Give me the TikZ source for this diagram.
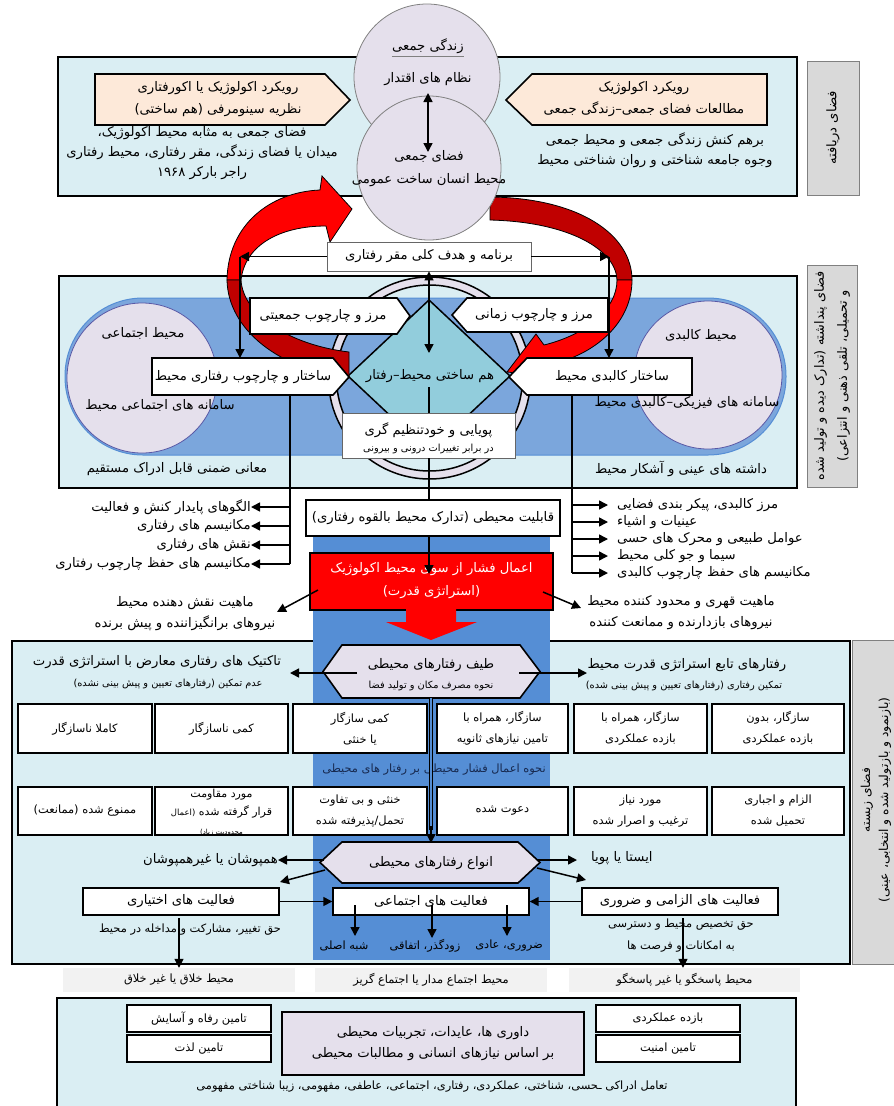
\documentclass[tikz,border=0pt]{standalone}
\usepackage{fontspec}
\usetikzlibrary{arrows.meta}
\TeXXeTstate=1
\newfontfamily\persianfont[Script=Arabic]{DejaVu Sans}
\newcommand\prs[1]{\beginR #1\endR}
\definecolor{lbox}{HTML}{DAEEF3}
\definecolor{peach}{HTML}{FDE9D9}
\definecolor{lav}{HTML}{E5E0EC}
\definecolor{midblue}{HTML}{7BA6DC}
\definecolor{bandblue}{HTML}{558ED5}
\definecolor{diamc}{HTML}{92CDDC}
\definecolor{glabel}{HTML}{D9D9D9}
\definecolor{lgray}{HTML}{F2F2F2}
\definecolor{dred}{HTML}{C00000}
\definecolor{navy}{HTML}{17294F}
\tikzset{
  bigbox/.style={draw=black,line width=2.6pt,fill=lbox},
  labelbox/.style={draw=gray,line width=1pt,fill=glabel},
  shapebox/.style={draw=black,line width=1.6pt,fill=white},
  thinbox/.style={draw=gray!80!black,line width=0.8pt,fill=white},
  cell/.style={draw=black,line width=1.4pt,fill=white},
  redband/.style={draw=black,line width=0.8pt,fill=red},
  dredband/.style={draw=black,line width=0.8pt,fill=dred},
  tx/.style={font=\persianfont\fontsize{13.2}{21}\selectfont,align=center,inner sep=0pt},
  tm/.style={font=\persianfont\fontsize{11.4}{21}\selectfont,align=center,inner sep=0pt},
  ts/.style={font=\persianfont\fontsize{9.8}{16}\selectfont,align=center,inner sep=0pt},
  arr/.style={-{Triangle[length=9pt,width=9pt]},line width=1.5pt},
  darr/.style={{Triangle[length=9pt,width=9pt]}-{Triangle[length=9pt,width=9pt]},line width=1.5pt},
  ln/.style={line width=1.5pt},
}
\begin{document}
\begin{tikzpicture}[x=1pt,y=-1pt]
\useasboundingbox (0,0) rectangle (894,1106);
% ================= top section =================
\draw[bigbox] (58,57) rectangle (797,196);
\draw[labelbox] (807,61) rectangle (859,195);
\node[tx,rotate=90] (lab1) at (833,128) {\prs{فضای دریافته}};
\draw[shapebox,fill=peach] (95,74) -- (325,74) -- (350,100) -- (325,125) -- (95,125) -- cycle;
\node[tx,font=\persianfont\fontsize{13.2}{22}\selectfont] (appL) at (218,99) {\prs{رویکرد اکولوژیک یا اکورفتاری}\\\prs{نظریه سینومرفی (هم ساختی)}};
\node[tx,font=\persianfont\fontsize{13.2}{20}\selectfont] (descL) at (202,153) {\prs{فضای جمعی به مثابه محیط اکولوژیک،}\\\prs{میدان یا فضای زندگی، مقر رفتاری، محیط رفتاری}\\\prs{راجر بارکر ۱۹۶۸}};
\draw[shapebox,fill=peach] (767,74) -- (532,74) -- (506,100) -- (532,125) -- (767,125) -- cycle;
\node[tx,font=\persianfont\fontsize{13.2}{22}\selectfont] (appR) at (644,99) {\prs{رویکرد اکولوژیک}\\\prs{مطالعات فضای جمعی–زندگی جمعی}};
\node[tx,font=\persianfont\fontsize{13.2}{20}\selectfont] (descR) at (655,150) {\prs{برهم کنش زندگی جمعی و محیط جمعی}\\\prs{وجوه جامعه شناختی و روان شناختی محیط}};
% ================= middle section =================
\draw[bigbox] (59,276) rectangle (797,488);
\draw[labelbox] (807,265) rectangle (857,487);
\node[tx,rotate=90,font=\persianfont\fontsize{12.8}{23}\selectfont] (lab2) at (832,376) {\prs{فضای پنداشته (تدارک دیده و تولید شده}\\\prs{و تحمیلی، تلقی ذهنی و انتزاعی)}};
\draw[fill=midblue,draw=bandblue,line width=1pt,rounded corners=78pt] (65,298) rectangle (786,455);
\draw[fill=lav,draw=gray!70!blue,line width=0.8pt] (142,378) circle[radius=75pt];
\draw[fill=lav,draw=gray!70!blue,line width=0.8pt] (708,375) circle[radius=74pt];
\node[tx] (socT) at (143,333) {\prs{محیط اجتماعی}};
\node[tx] (socS) at (160,405) {\prs{سامانه های اجتماعی محیط}};
\node[tx] (phyT) at (701,335) {\prs{محیط کالبدی}};
\node[tx] (phyS) at (687,403) {\prs{سامانه های فیزیکی–کالبدی محیط}};
\node[tx] (implicit) at (177,469) {\prs{معانی ضمنی قابل ادراک مستقیم}};
\node[tx] (explicit) at (681,469) {\prs{داشته های عینی و آشکار محیط}};
\fill[lav,even odd rule] (429.5,378) circle[radius=101pt] (429.5,378) circle[radius=93pt];
\draw[line width=1.5pt] (429.5,378) circle[radius=101pt];
\draw[line width=1.5pt] (429.5,378) circle[radius=93pt];
\draw[fill=diamc,line width=1.5pt] (429,300) -- (510,376) -- (429,452) -- (348,376) -- cycle;
\node[tx] (diam) at (430,376) {\prs{هم ساختی محیط–رفتار}};
% red curved arrows
\draw[redband] (227,280) .. controls (228,225) and (270,192) .. (320,190) -- (322,176) -- (352,209) -- (330,242) -- (326,226) .. controls (280,226) and (245,245) .. (241,280) -- cycle;
\draw[dredband] (241,280) .. controls (243,315) and (290,345) .. (349,352) -- (349,378) .. controls (280,370) and (228,330) .. (227,280) -- cycle;
\draw[dredband] (490,197) .. controls (580,198) and (632,235) .. (632,280) -- (617,280) .. controls (616,250) and (570,222) .. (490,220) -- cycle;
\draw[redband] (617,280) .. controls (617,310) and (585,335) .. (544,345) -- (536,334) -- (507,372) -- (566,378) -- (560,362) .. controls (600,350) and (632,320) .. (632,280) -- cycle;
% top circles
\draw[fill=lav,draw=gray,line width=0.8pt] (427,77) circle[radius=73pt];
\draw[fill=lav,draw=gray,line width=0.8pt] (429,168) circle[radius=72pt];
\node[tx] (lifeT) at (428,46) {\prs{زندگی جمعی}};
\draw[gray,line width=0.8pt] ([yshift=-3pt]lifeT.south west) -- ([yshift=-3pt]lifeT.south east);
\node[tx] (power) at (428,79) {\prs{نظام های اقتدار}};
\node[tx,font=\persianfont\fontsize{13.2}{23}\selectfont] (space) at (429,168.5) {\prs{فضای جمعی}\\\prs{محیط انسان ساخت عمومی}};
\coordinate (pa) at (428,93);
\coordinate (pb) at (428,152);
\draw[darr] (pa) -- (pb);
% boxes of middle section
\node[thinbox,tx,minimum width=204pt,minimum height=29pt] (prog) at (429,256.5) {\prs{برنامه و هدف کلی مقر رفتاری}};
\draw[shapebox] (250,298) -- (397,298) -- (410,316) -- (397,334) -- (250,334) -- cycle;
\node[tx] (bndPop) at (323,316) {\prs{مرز و چارچوب جمعیتی}};
\draw[shapebox] (608,298) -- (467,298) -- (452,315) -- (467,332) -- (608,332) -- cycle;
\node[tx] (bndTime) at (534,315) {\prs{مرز و چارچوب زمانی}};
\draw[shapebox] (152,358) -- (333,358) -- (349,377) -- (333,395) -- (152,395) -- cycle;
\node[tx] (strB) at (243,377) {\prs{ساختار و چارچوب رفتاری محیط}};
\draw[shapebox] (692,358) -- (527,358) -- (509,377) -- (527,395) -- (692,395) -- cycle;
\node[tx] (strP) at (612,377) {\prs{ساختار کالبدی محیط}};
\node[thinbox,minimum width=173pt,minimum height=45pt] (dyn) at (428.5,435.5) {};
\node[tx] (dynA) at (428.5,430) {\prs{پویایی و خودتنظیم گری}};
\node[ts] (dynB) at (428.5,449) {\prs{در برابر تغییرات درونی و بیرونی}};
% arrows of middle section
\coordinate (cL) at (240,256.5);
\coordinate (cR) at (609,256.5);
\coordinate (strBtop) at (240,358);
\coordinate (strPtop) at (609,358);
\draw[arr] (prog.west) -- (cL);
\draw[arr] (cL) -- (strBtop);
\draw[arr] (prog.east) -- (cR);
\draw[arr] (cR) -- (strPtop);
\coordinate (dtop) at (429,353);
\draw[darr] (prog.south -| dtop) -- (dtop);
\coordinate (dbot) at (429,387);
\draw[ln] (dbot) -- (dbot |- dyn.north);
% lists
\coordinate (lTop) at (290,395);
\coordinate (lBot) at (290,564);
\draw[ln] (lTop) -- (lBot);
\node[tx,anchor=east] (L1) at (251,507) {\prs{الگوهای پایدار کنش و فعالیت}};
\node[tx,anchor=east] (L2) at (251,526) {\prs{مکانیسم های رفتاری}};
\node[tx,anchor=east] (L3) at (251,545) {\prs{نقش های رفتاری}};
\node[tx,anchor=east] (L4) at (251,564) {\prs{مکانیسم های حفظ چارچوب رفتاری}};
\foreach \n in {L1,L2,L3,L4} \draw[arr] (lTop |- \n) -- (\n.east);
\coordinate (rTop) at (572,395);
\coordinate (rBot) at (572,573);
\draw[ln] (rTop) -- (rBot);
\node[tx,anchor=west] (R1) at (617,505) {\prs{مرز کالبدی، پیکر بندی فضایی}};
\node[tx,anchor=west] (R2) at (617,522) {\prs{عینیات و اشیاء}};
\node[tx,anchor=west] (R3) at (617,539) {\prs{عوامل طبیعی و محرک های حسی}};
\node[tx,anchor=west] (R4) at (617,556) {\prs{سیما و جو کلی محیط}};
\node[tx,anchor=west] (R5) at (617,573) {\prs{مکانیسم های حفظ چارچوب کالبدی}};
\foreach \n in {R1,R2,R3,R4,R5} \draw[arr] (rTop |- \n) -- ([xshift=-9pt]\n.west);
% ================= lower section =================
\draw[bigbox] (12,641) rectangle (850,964);
\draw[labelbox] (852,640) rectangle (900,964);
\node[tx,rotate=90,font=\persianfont\fontsize{12.3}{18}\selectfont] (lab3) at (876,800) {\prs{فضای زیسته}\\\prs{(بازنمود و بازتولید شده و انتخابی، عینی)}};
\fill[bandblue] (313,530) rectangle (550,960);
\node[cell,tx,minimum width=254pt,minimum height=36pt] (cap) at (433,518) {\prs{قابلیت محیطی (تدارک محیط بالقوه رفتاری)}};
\draw[ln] (dyn.south -| dbot) -- (dbot |- cap.north);
\node[draw=black,line width=1.4pt,fill=red,minimum width=243pt,minimum height=57pt] (press) at (431.5,581.5) {};
\node[tx,text=white,font=\persianfont\fontsize{13.2}{23}\selectfont] (pressT) at (431.5,580.5) {\prs{اعمال فشار از سوی محیط اکولوژیک}\\\prs{(استراتژی قدرت)}};
\coordinate (ptip) at (429,574);
\draw[arr] (cap.south -| ptip) -- (ptip);
\fill[red] (406,609) -- (456,609) -- (456,622) -- (477,622) -- (431,640) -- (386,622) -- (406,622) -- cycle;
\coordinate (pL) at (318,590);
\coordinate (pLt) at (277,612);
\coordinate (pR) at (543,592);
\coordinate (pRt) at (581,608);
\draw[arr] (pL) -- (pLt);
\draw[arr] (pR) -- (pRt);
\node[tx] (natL) at (185,614) {\prs{ماهیت نقش دهنده محیط}\\\prs{نیروهای برانگیزاننده و پیش برنده}};
\node[tx] (natR) at (681,613) {\prs{ماهیت قهری و محدود کننده محیط}\\\prs{نیروهای بازدارنده و ممانعت کننده}};
% spectrum hexagon
\draw[fill=lav,line width=1.6pt] (323,671.5) -- (342,645) -- (520,645) -- (540,671.5) -- (520,698) -- (342,698) -- cycle;
\node[tx] (spec) at (431,665) {\prs{طیف رفتارهای محیطی}};
\node[ts] (specS) at (431,686) {\prs{نحوه مصرف مکان و تولید فضا}};
\node[tx] (tac) at (157,662) {\prs{تاکتیک های رفتاری معارض با استراتژی قدرت}};
\node[ts] (tacS) at (168,684) {\prs{عدم تمکین (رفتارهای تعیین و پیش بینی نشده)}};
\node[tx] (fol) at (687,665) {\prs{رفتارهای تابع استراتژی قدرت محیط}};
\node[ts] (folS) at (684,686) {\prs{تمکین رفتاری (رفتارهای تعیین و پیش بینی شده)}};
\coordinate (s1) at (357,673);
\coordinate (s1t) at (290,673);
\coordinate (s2) at (519,673);
\coordinate (s2t) at (587,673);
\draw[arr] (s1) -- (s1t);
\draw[arr] (s2) -- (s2t);
% grid row 1
\node[cell,tm,minimum width=134pt,minimum height=49pt] (a1) at (85,728.5) {\prs{کاملا ناسازگار}};
\node[cell,tm,minimum width=133pt,minimum height=49pt] (a2) at (221.5,728.5) {\prs{کمی ناسازگار}};
\node[cell,tm,minimum width=134pt,minimum height=49pt] (a3) at (360,728.5) {\prs{کمی سازگار}\\\prs{یا خنثی}};
\node[cell,tm,minimum width=131pt,minimum height=49pt] (a4) at (502.5,728.5) {\prs{سازگار، همراه با}\\\prs{تامین نیازهای ثانویه}};
\node[cell,tm,minimum width=133pt,minimum height=49pt] (a5) at (640.5,728.5) {\prs{سازگار، همراه با}\\\prs{بازده عملکردی}};
\node[cell,tm,minimum width=132pt,minimum height=49pt] (a6) at (778,728.5) {\prs{سازگار، بدون}\\\prs{بازده عملکردی}};
\node[tm,text=navy] (how) at (434,770) {\prs{نحوه اعمال فشار محیطی بر رفتار های محیطی}};
% grid row 2
\node[cell,tm,minimum width=134pt,minimum height=48pt] (b1) at (85,811) {\prs{ممنوع شده (ممانعت)}};
\node[cell,minimum width=133pt,minimum height=48pt] (b2) at (221.5,811) {};
\node[tm,font=\persianfont\fontsize{11}{18}\selectfont] (b2t) at (221.5,804) {\prs{مورد مقاومت}\\\prs{قرار گرفته شده {\fontsize{8.5}{9}\selectfont(اعمال}}};
\node[ts,font=\persianfont\fontsize{7}{8}\selectfont] (b2s) at (221.5,833) {\prs{محدودیت زیاد)}};
\node[cell,tm,minimum width=134pt,minimum height=48pt] (b3) at (360,811) {\prs{خنثی و بی تفاوت}\\\prs{تحمل/پذیرفته شده}};
\node[cell,tm,minimum width=131pt,minimum height=48pt] (b4) at (502.5,811) {\prs{دعوت شده}};
\node[cell,tm,minimum width=133pt,minimum height=48pt] (b5) at (640.5,811) {\prs{مورد نیاز}\\\prs{ترغیب و اصرار شده}};
\node[cell,tm,minimum width=132pt,minimum height=48pt] (b6) at (778,811) {\prs{الزام و اجباری}\\\prs{تحمیل شده}};
% double line to types
\coordinate (h1s) at (431,698);
\coordinate (h2a) at (431,830);
\coordinate (h2n) at (431,843);
\draw[line width=0.8pt,double=bandblue,double distance=2.2pt] (h1s) -- (h2a);
\draw[arr] ([yshift=4pt]h2a) -- (h2n);
% types hexagon
\draw[fill=lav,line width=1.6pt] (320,862.5) -- (342,842) -- (518,842) -- (540,862.5) -- (518,883) -- (342,883) -- cycle;
\node[tx] (kinds) at (431,863) {\prs{انواع رفتارهای محیطی}};
\node[tx,anchor=east] (ovl) at (278,860) {\prs{همپوشان یا غیرهمپوشان}};
\node[tx,anchor=west] (stat) at (591,858) {\prs{ایستا یا پویا}};
\coordinate (k1) at (324,860);
\coordinate (k2) at (325,870);
\coordinate (k2t) at (280,882);
\coordinate (k3) at (537,860);
\coordinate (k3t) at (577,860);
\coordinate (k4) at (537,868);
\coordinate (k4t) at (586,880);
\draw[arr] (k1) -- (ovl.east);
\draw[arr] (k2) -- (k2t);
\draw[arr] (k3) -- (k3t);
\draw[arr] (k4) -- (k4t);
% activities
\node[cell,tx,minimum width=196pt,minimum height=27pt] (actO) at (181,901.5) {\prs{فعالیت های اختیاری}};
\node[cell,tx,minimum width=196pt,minimum height=27pt] (actS) at (431,901.5) {\prs{فعالیت های اجتماعی}};
\node[cell,tx,minimum width=196pt,minimum height=27pt] (actN) at (680,901.5) {\prs{فعالیت های الزامی و ضروری}};
\draw[arr] (actO.east) -- (actS.west);
\draw[arr] (actN.west) -- (actS.east);
\node[tm] (sub1) at (344,946) {\prs{شبه اصلی}};
\node[tm] (sub2) at (425,946) {\prs{زودگذر، اتفاقی}};
\node[tm] (sub3) at (509,946) {\prs{ضروری، عادی}};
\coordinate (d1) at (355,905);
\coordinate (d1t) at (355,936);
\coordinate (d2) at (432,905);
\coordinate (d2t) at (432,938);
\coordinate (d3) at (507,905);
\coordinate (d3t) at (507,936);
\draw[arr] (d1) -- (d1t);
\draw[arr] (d2) -- (d2t);
\draw[arr] (d3) -- (d3t);
\node[tm] (rightO) at (190,930) {\prs{حق تغییر، مشارکت و مداخله در محیط}};
\node[tm,font=\persianfont\fontsize{11.4}{22}\selectfont] (rightN) at (681,936) {\prs{حق تخصیص محیط و دسترسی}\\\prs{به امکانات و فرصت ها}};
\node[fill=lgray,tm,minimum width=232pt,minimum height=24pt] (envC) at (179,980) {\prs{محیط خلاق یا غیر خلاق}};
\node[fill=lgray,tm,minimum width=232pt,minimum height=24pt] (envS) at (431,980) {\prs{محیط اجتماع مدار یا اجتماع گریز}};
\node[fill=lgray,tm,minimum width=231pt,minimum height=24pt] (envR) at (684.5,980) {\prs{محیط پاسخگو یا غیر پاسخگو}};
\coordinate (o1) at (179,918);
\coordinate (n1) at (683,918);
\draw[arr] (o1) -- (envC.north);
\draw[arr] (n1) -- (n1 |- envR.north);
% ================= bottom section =================
\draw[bigbox] (57,998) rectangle (796,1115);
\node[cell,tm,minimum width=144pt,minimum height=27pt] (wel) at (199,1018.5) {\prs{تامین رفاه و آسایش}};
\node[cell,tm,minimum width=144pt,minimum height=27pt] (ple) at (199,1048.5) {\prs{تامین لذت}};
\node[cell,tm,minimum width=144pt,minimum height=27pt] (perf) at (668,1018.5) {\prs{بازده عملکردی}};
\node[cell,tm,minimum width=144pt,minimum height=27pt] (safe) at (668,1048.5) {\prs{تامین امنیت}};
\node[draw=black,line width=1.6pt,fill=lav,tx,minimum width=302pt,minimum height=63pt] (judg) at (433,1043.5) {\prs{داوری ها، عایدات، تجربیات محیطی}\\\prs{بر اساس نیازهای انسانی و مطالبات محیطی}};
\node[tm] (inter) at (432,1087) {\prs{تعامل ادراکی ـحسی، شناختی، عملکردی، رفتاری، اجتماعی، عاطفی، مفهومی، زیبا شناختی مفهومی}};
\end{tikzpicture}
\end{document}
